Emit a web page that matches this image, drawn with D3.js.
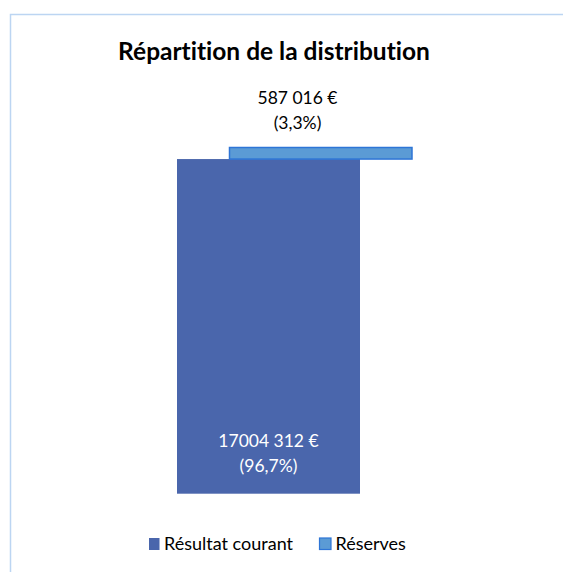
<!doctype html>
<html lang="fr">
<head>
  <meta charset="utf-8">
  <title>Répartition de la distribution</title>
  <script src="https://cdn.jsdelivr.net/npm/d3@7"></script>
  <style>
    body { margin: 0; background: #fff; }
    svg text { font-family: Lato, "Open Sans", sans-serif; font-variant-ligatures: none; }
  </style>
</head>
<body>
<svg id="chart" width="563" height="572"></svg>
<script>
  // data
  var series = ["Résultat courant", "Réserves"];
  var values = [17004312, 587016];
  var valueLabels = ["17004 312 €", "587 016 €"];
  var pctLabels = ["(96,7%)", "(3,3%)"];
  var fills = ["#4A66AC", "#5B9BD5"];
  var strokes = ["none", "#2E75D6"];

  var svg = d3.select("#chart");

  // frame of the chart area
  svg.append("rect")
    .attr("x", 10.5).attr("y", 14.5)
    .attr("width", 600).attr("height", 600)
    .attr("fill", "#fff")
    .attr("stroke", "#BCD5F2").attr("stroke-width", 1.5);

  svg.append("text")
    .attr("x", 274).attr("y", 60)
    .attr("text-anchor", "middle")
    .style("font-size", "24.5px").style("font-weight", "bold")
    .attr("fill", "#000")
    .text("Répartition de la distribution");

  // stacked values
  var starts = [];
  var acc = 0;
  values.forEach(function(v) { starts.push(acc); acc += v; });

  var y = d3.scaleLinear().domain([0, acc]).range([493.7, 147.5]);
  var x = d3.scaleLinear().domain([0, 1]).range([177, 229.5]);
  var barW = 183;

  svg.selectAll(".bar")
    .data(values)
    .enter().append("rect")
    .attr("class", "bar")
    .attr("x", function(d, i) { return x(i); })
    .attr("y", function(d, i) { return y(starts[i] + d); })
    .attr("width", function(d, i) { return i === 0 ? barW : barW - 0.5; })
    .attr("height", function(d, i) { return y(starts[i]) - y(starts[i] + d); })
    .attr("fill", function(d, i) { return fills[i]; })
    .attr("stroke", function(d, i) { return strokes[i]; })
    .attr("stroke-width", 1.5);

  // labels
  var fs = "17.5px";
  var lab0 = svg.append("text")
    .attr("text-anchor", "middle").attr("fill", "#fff")
    .style("font-size", fs);
  lab0.append("tspan").attr("x", x(0) + barW / 2).attr("y", 447).text(valueLabels[0]);
  lab0.append("tspan").attr("x", x(0) + barW / 2).attr("y", 472).text(pctLabels[0]);

  var lab1 = svg.append("text")
    .attr("text-anchor", "middle").attr("fill", "#000")
    .style("font-size", fs);
  lab1.append("tspan").attr("x", 297.5).attr("y", 104).text(valueLabels[1]);
  lab1.append("tspan").attr("x", 297.5).attr("y", 129).text(pctLabels[1]);

  // legend
  var legX = [149, 319.5];
  var leg = svg.selectAll(".leg")
    .data(series)
    .enter().append("g")
    .attr("class", "leg")
    .attr("transform", function(d, i) { return "translate(" + legX[i] + ",538)"; });
  leg.append("rect")
    .attr("width", function(d, i) { return i === 0 ? 10.5 : 11.5; })
    .attr("height", function(d, i) { return i === 0 ? 12 : 11.5; })
    .attr("fill", function(d, i) { return fills[i]; })
    .attr("stroke", function(d, i) { return strokes[i]; })
    .attr("stroke-width", 1.2);
  leg.append("text")
    .attr("x", function(d, i) { return i === 0 ? 15 : 16; })
    .attr("y", 12)
    .attr("fill", "#000")
    .style("font-size", "18px")
    .text(function(d) { return d; });
</script>
</body>
</html>
